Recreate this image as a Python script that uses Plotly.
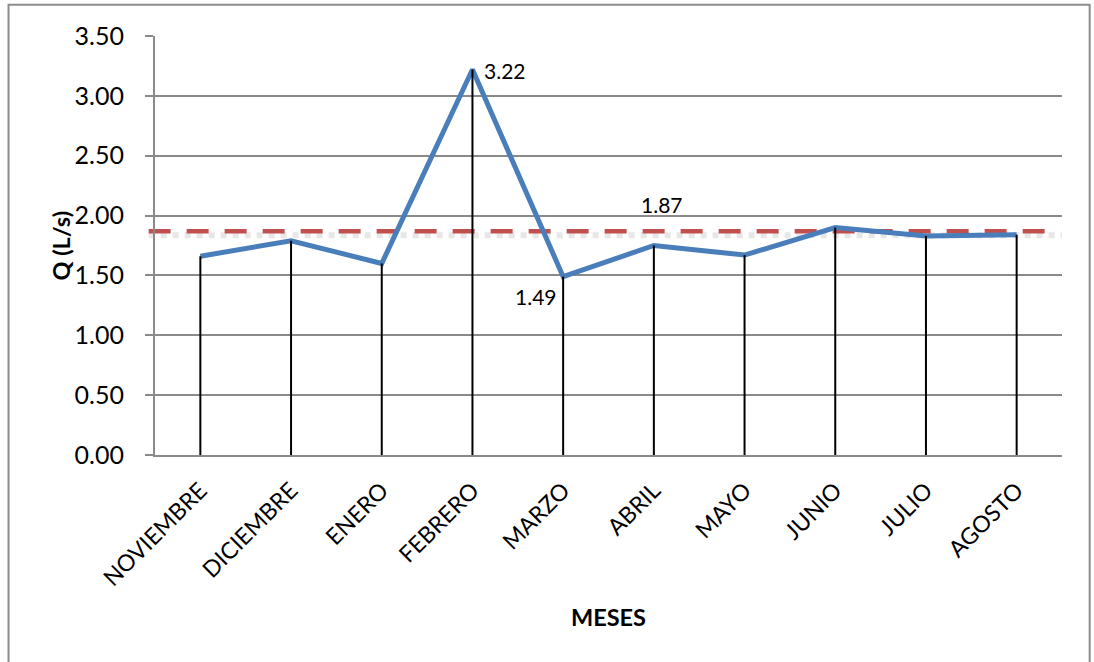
import plotly.graph_objects as go

# Monthly flow series
meses = ["NOVIEMBRE", "DICIEMBRE", "ENERO", "FEBRERO", "MARZO",
         "ABRIL", "MAYO", "JUNIO", "JULIO", "AGOSTO"]
caudal = [1.66, 1.79, 1.60, 3.22, 1.49, 1.75, 1.67, 1.90, 1.83, 1.84]
promedio = 1.87
y_ticks = [0.0, 0.5, 1.0, 1.5, 2.0, 2.5, 3.0, 3.5]

FONT = "Lato"
BLUE = "#4A7EBB"
RED = "#C0504D"
GRID = "#8A8A8A"

fig = go.Figure()

# main flow line
fig.add_trace(go.Scatter(
    x=meses, y=caudal, mode="lines",
    line=dict(color=BLUE, width=5),
    hoverinfo="x+y", showlegend=False,
))

# drop lines from each point to the baseline
drop_x, drop_y = [], []
for m, v in zip(meses, caudal):
    drop_x += [m, m, None]
    drop_y += [0, v, None]
fig.add_trace(go.Scatter(
    x=drop_x, y=drop_y, mode="lines",
    line=dict(color="black", width=2),
    hoverinfo="skip", showlegend=False,
))

# average line with its soft shadow
fig.add_shape(type="line", xref="paper", x0=-0.007, x1=1.0,
              yref="y", ysizemode="pixel", yanchor=promedio, y0=-4, y1=-4,
              line=dict(color="rgba(195,195,195,0.4)", width=6, dash="dot"),
              layer="between")
fig.add_shape(type="line", xref="paper", x0=-0.007, x1=0.99,
              yref="y", y0=promedio, y1=promedio,
              line=dict(color=RED, width=4.5, dash="22px,16px"),
              layer="between")

# page frame
fig.add_shape(type="rect", xref="paper", yref="paper",
              x0=-0.1615, x1=1.0305, y0=-0.6, y1=1.0745,
              line=dict(color="#8C8C8C", width=2), fillcolor="rgba(0,0,0,0)",
              layer="below")

i_max = caudal.index(max(caudal))
i_min = caudal.index(min(caudal))
annotations = [
    dict(x=meses[i_max], y=caudal[i_max], xref="x", yref="y",
         text=f"{caudal[i_max]:.2f}", showarrow=False,
         xanchor="left", yanchor="middle", xshift=10, yshift=-1,
         font=dict(family=FONT, size=21, color="black")),
    dict(x=meses[i_min], y=caudal[i_min], xref="x", yref="y",
         text=f"{caudal[i_min]:.2f}", showarrow=False,
         xanchor="right", yanchor="top", xshift=-4, yshift=-5,
         font=dict(family=FONT, size=21, color="black")),
    dict(x="ABRIL", y=promedio, xref="x", yref="y",
         text=f"{promedio:.2f}", showarrow=False,
         xanchor="center", yanchor="bottom", xshift=8, yshift=12,
         font=dict(family=FONT, size=21, color="black")),
    dict(x=0.5, y=-0.3866, xref="paper", yref="paper", text="<b>MESES</b>",
         showarrow=False, xanchor="center", yanchor="middle",
         font=dict(family=FONT, size=23.5, color="black")),
    dict(x=-0.1047, y=0.5, xref="paper", yref="paper", text="<b>Q (L/s)</b>",
         showarrow=False, xanchor="center", yanchor="middle", textangle=-90,
         font=dict(family=FONT, size=23.5, color="black")),
]

fig.update_layout(
    width=1094, height=662,
    margin=dict(l=155, r=32, t=36, b=207),
    paper_bgcolor="white", plot_bgcolor="white",
    font=dict(family=FONT, size=22, color="black"),
    annotations=annotations,
    showlegend=False,
)

fig.update_xaxes(
    type="category", categoryorder="array", categoryarray=meses,
    range=[-0.5, len(meses) - 0.5],
    showgrid=False, showline=True, linecolor=GRID, linewidth=2,
    ticks="", tickangle=-45, tickfont=dict(family=FONT, size=23),
    ticklabelstandoff=11, zeroline=False,
)
fig.update_yaxes(
    range=[0, 3.5], tickvals=y_ticks, tickformat=".2f",
    showgrid=True, gridcolor=GRID, gridwidth=1.5,
    showline=True, linecolor=GRID, linewidth=2,
    ticks="outside", ticklen=8, tickcolor=GRID, tickwidth=1.5,
    ticklabelstandoff=16, tickfont=dict(family=FONT, size=25),
    zeroline=False,
)

fig.write_html("out.html")
